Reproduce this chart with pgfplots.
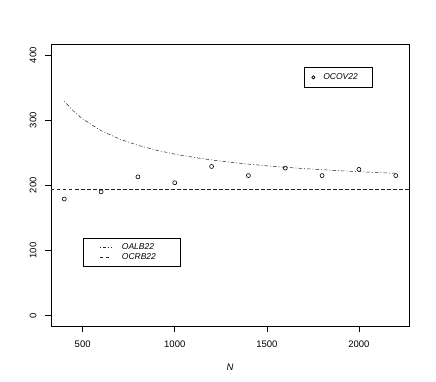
\documentclass[border=0pt]{standalone}
\usepackage{pgfplots}
\pgfplotsset{compat=1.18}
\usepackage{fontspec}
\setmainfont{Liberation Sans}

\pgfplotsset{
  rplot/.style={
    scale only axis, width=358pt, height=281.3pt,
    at={(0,0)}, anchor=south west,
    xmin=328, xmax=2272, ymin=-16, ymax=416,
    axis line style={line width=0.7pt},
  },
  rlegend/.style={
    legend cell align=left,
    legend style={draw=black, line width=0.5pt, font=\fontsize{8.5}{10}\selectfont\itshape,
      inner xsep=0pt, nodes={inner xsep=0pt, inner ysep=0pt}},
  },
}

\begin{document}
\begin{tikzpicture}
\begin{axis}[rplot, rlegend,
  tick align=outside, tick pos=left,
  major tick length=6pt, tick style={line width=0.6pt, black},
  xtick={500,1000,1500,2000}, ytick={0,100,200,300,400},
  ticklabel style={font=\fontsize{9.5}{10}\selectfont},
  /pgf/number format/assume math mode=true,
  /pgf/number format/set thousands separator={},
  xticklabel style={yshift=-5pt},
  yticklabel style={xshift=-5pt, rotate=90, anchor=south},
  xlabel={\itshape N}, xlabel style={font=\fontsize{9.5}{10}\selectfont, yshift=-10pt},
  legend style={at={(0.0885,0.313)}, anchor=north west, inner ysep=5.5pt, row sep=2pt},
  legend image code/.code={\path[draw=none] (0pt,0pt) -- (39pt,0pt); \draw[#1] (16.6pt,0pt) -- (28.6pt,0pt);},
]
% OALB22
\addplot[black!85, line width=0.5pt, dash pattern=on 1pt off 2pt on 3.5pt off 2pt] coordinates {
  (400,329) (450,314) (500,302) (600,284) (700,271.1) (800,261.5) (900,254)
  (1000,248) (1100,243.1) (1200,239) (1300,235.5) (1400,232.6) (1500,230)
  (1600,227.75) (1700,225.8) (1800,224) (1900,222.4) (2000,221) (2100,219.7) (2200,218.5)
};
\addlegendentry{OALB22\hspace*{24pt}}
% OCRB22
\addplot[black!85, line width=0.5pt, dash pattern=on 3.5pt off 2.5pt] coordinates {
  (328,194) (2272,194)
};
\addlegendentry{OCRB22\hspace*{24pt}}
% OCOV22
\addplot[only marks, mark=o, mark size=2pt, mark options={line width=0.6pt, black}, forget plot] coordinates {
  (400,179) (600,190) (800,213) (1000,204) (1200,229)
  (1400,215) (1600,226.5) (1800,215) (2000,224.5) (2200,215)
};
\end{axis}
\begin{axis}[rplot, rlegend, hide axis,
  legend style={at={(0.707,0.921)}, anchor=north west, inner ysep=6.5pt},
  legend image code/.code={\path[draw=none] (0pt,0pt) -- (19pt,0pt); \draw[#1] plot coordinates {(9pt,0pt)};},
]
\addlegendimage{only marks, mark=o, mark size=1.6pt, mark options={line width=0.6pt, black}}
\addlegendentry{OCOV22\hspace*{14pt}}
\end{axis}
\pgfresetboundingbox
\path[use as bounding box] (-51pt,-56pt) rectangle (385pt,326pt);
\end{tikzpicture}
\end{document}
